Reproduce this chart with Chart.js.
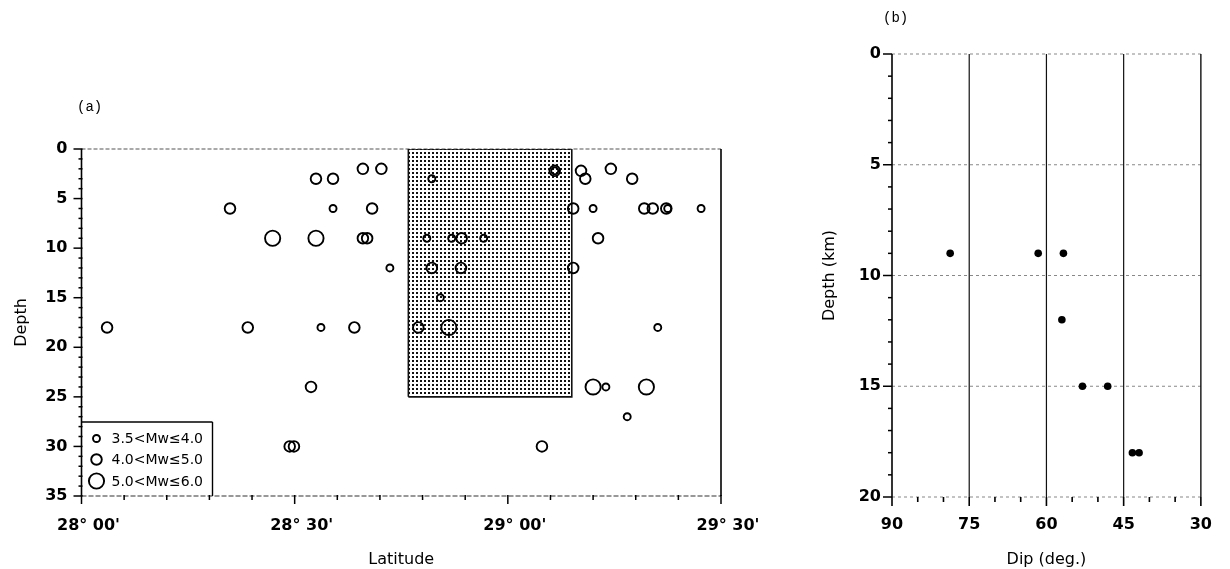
<!DOCTYPE html>
<html>
<head>
<meta charset="utf-8">
<script src="https://cdn.jsdelivr.net/npm/chart.js@4.4.1/dist/chart.umd.min.js"></script>
<style>
  body { margin: 0; background: #fff; width: 1230px; height: 569px; overflow: hidden; position: relative; }
  canvas { position: absolute; top: 0; }
  #chartA { left: 0; }
  #chartB { left: 790px; }
  .tag { position: absolute; font: 14px "Liberation Mono", "DejaVu Sans Mono", monospace; color: #000; will-change: transform; }
</style>
</head>
<body>
<div class="tag" style="left:77px; top:99px;">(a)</div>
<div class="tag" style="left:883px; top:10px;">(b)</div>
<canvas id="chartA" width="790" height="569"></canvas>
<canvas id="chartB" width="440" height="569"></canvas>
<script>
// panel (a): latitude as minutes north of 28°00', depth in km
const smallLat   = [49.3, 35.4, 72.0, 82.5, 87.2, 48.6, 52.1, 56.6, 43.4, 50.5, 33.7, 81.1, 73.8, 76.8, 66.6];
const smallDepth = [3, 6, 6, 6, 6, 9, 9, 9, 12, 15, 18, 18, 24, 27, 2.2];
const midLat   = [39.6, 42.2, 66.6, 70.3, 74.5, 33.0, 35.4, 70.9, 77.5, 20.9, 40.9, 69.2, 79.2, 80.4, 82.3,
                  39.6, 40.2, 53.5, 72.7, 49.3, 53.4, 69.2, 3.6, 23.4, 38.4, 47.4, 32.3, 29.3, 29.9, 64.8];
const midDepth = [2, 2, 2.2, 2.2, 2, 3, 3, 3, 3, 6, 6, 6, 6, 6, 6,
                  9, 9, 9, 9, 12, 12, 12, 18, 18, 18, 18, 24, 30, 30, 30];
const bigLat   = [26.9, 33.0, 51.7, 72.0, 79.5];
const bigDepth = [9, 9, 18, 24, 24];
const zoneLat   = [46, 46, 69, 69, 46];
const zoneDepth = [25, 0, 0, 25, 25];
const magLabels = ['3.5<Mw≤4.0', '4.0<Mw≤5.0', '5.0<Mw≤6.0'];
const latLabels = ["28° 00'", "28° 30'", "29° 00'", "29° 30'"];

// panel (b): dip vs depth
const dipDeg   = [78.7, 61.6, 56.7, 57.0, 53.0, 48.1, 43.3, 42.0];
const dipDepth = [9, 9, 9, 12, 15, 15, 18, 18];

const FONT = '"Comic Sans MS", "DejaVu Sans", sans-serif';
const tickFont  = { family: FONT, size: 16, weight: 'bold' };
const titleFont = { family: FONT, size: 16 };

const pts = (xs, ys) => xs.map((x, i) => ({ x, y: ys[i] }));

function stipple() {
  const c = document.createElement('canvas');
  c.width = 4; c.height = 4;
  const g = c.getContext('2d');
  g.fillStyle = '#111';
  g.fillRect(0, 0, 2, 2);
  return g.createPattern(c, 'repeat');
}

function line(ctx, x1, y1, x2, y2, color, width, dash) {
  ctx.save();
  ctx.strokeStyle = color;
  ctx.lineWidth = width;
  ctx.setLineDash(dash || []);
  ctx.beginPath();
  ctx.moveTo(x1, y1);
  ctx.lineTo(x2, y2);
  ctx.stroke();
  ctx.restore();
}

// frame + ticks for panel (a)
const frameA = {
  id: 'frameA',
  beforeDatasetsDraw(chart) {
    const { ctx, chartArea: a, scales: { x, y } } = chart;
    line(ctx, a.left, a.top, a.right, a.top, '#555', 1.2, [4, 2]);
    line(ctx, a.left, a.bottom, a.right, a.bottom, '#333', 1.2, [5, 2]);
    line(ctx, a.left, a.top, a.left, a.bottom, '#000', 1.6);
    line(ctx, a.right, a.top, a.right, a.bottom, '#000', 1.6);
    for (let d = 0; d <= 35; d++) {
      const py = y.getPixelForValue(d);
      line(ctx, a.left - (d % 5 ? 3 : 8), py, a.left + 1, py, '#000', 1.5);
    }
    for (let m = 0; m <= 90; m += 6) {
      const px = x.getPixelForValue(m);
      line(ctx, px, a.bottom - 1, px, a.bottom + (m % 30 ? 4 : 8), '#000', 1.5);
    }
  },
  afterDatasetsDraw(chart) {
    // magnitude key in the lower left corner
    const { ctx, chartArea: a } = chart;
    const top = a.bottom - 74, right = a.left + 131;
    line(ctx, a.left, top, right, top, '#000', 1.4);
    line(ctx, right, top, right, a.bottom, '#000', 1.4);
    const rows = [a.bottom - 57.5, a.bottom - 36.5, a.bottom - 15];
    ctx.save();
    ctx.font = '14px ' + FONT;
    ctx.fillStyle = '#000';
    ctx.textBaseline = 'middle';
    [0, 1, 2].forEach(i => {
      const ds = chart.data.datasets[i];
      ctx.beginPath();
      ctx.lineWidth = ds.borderWidth;
      ctx.strokeStyle = '#000';
      ctx.arc(a.left + 15, rows[i], ds.pointRadius, 0, Math.PI * 2);
      ctx.stroke();
      ctx.fillText(ds.label, a.left + 30, rows[i] + 1);
    });
    ctx.restore();
  }
};

const circle = (label, xs, ys, r) => ({
  label, data: pts(xs, ys), pointRadius: r, pointHoverRadius: r,
  borderColor: '#000', borderWidth: 1.9, backgroundColor: 'rgba(0,0,0,0)', order: 1
});

new Chart(document.getElementById('chartA'), {
  type: 'scatter',
  data: {
    datasets: [
      circle(magLabels[0], smallLat, smallDepth, 3.5),
      circle(magLabels[1], midLat, midDepth, 5.3),
      circle(magLabels[2], bigLat, bigDepth, 7.6),
      {
        type: 'line', label: 'zone', data: pts(zoneLat, zoneDepth),
        fill: 'shape', backgroundColor: stipple(), borderColor: '#111', borderWidth: 1.6,
        pointRadius: 0, tension: 0, order: 5
      }
    ]
  },
  options: {
    responsive: false,
    animation: false,
    events: [],
    layout: { padding: { top: 149, right: 69, left: 0, bottom: 0 } },
    plugins: { legend: { display: false }, tooltip: { enabled: false } },
    scales: {
      x: {
        type: 'linear', min: 0, max: 90,
        grid: { display: false, drawTicks: false }, border: { display: false },
        ticks: { stepSize: 30, autoSkip: false, maxRotation: 0, padding: 20, labelOffset: 7,
                 color: '#000', font: tickFont, callback: v => latLabels[v / 30] },
        title: { display: true, text: 'Latitude', color: '#000', font: titleFont, padding: { top: 0, bottom: 0 } },
        afterFit: s => { s.height = 73; }
      },
      y: {
        type: 'linear', min: 0, max: 35, reverse: true,
        grid: { display: false, drawTicks: false }, border: { display: false },
        ticks: { stepSize: 5, padding: 14, color: '#000', font: tickFont },
        title: { display: true, text: 'Depth', color: '#000', font: titleFont, padding: { top: 12, bottom: 0 } },
        afterFit: s => { s.width = 81.5; }
      }
    }
  },
  plugins: [frameA]
});

// frame, grid + ticks for panel (b)
const frameB = {
  id: 'frameB',
  beforeDatasetsDraw(chart) {
    const { ctx, chartArea: a, scales: { x, y } } = chart;
    [0, 5, 10, 15, 20].forEach(d => {
      const py = y.getPixelForValue(d);
      line(ctx, a.left, py, a.right, py, '#888', 1, [3, 3]);
    });
    [75, 60, 45].forEach(v => {
      const px = x.getPixelForValue(v);
      line(ctx, px, a.top, px, a.bottom, '#111', 1.2);
    });
    line(ctx, a.right, a.top, a.right, a.bottom, '#111', 1.4);
    line(ctx, a.left, a.top, a.left, a.bottom, '#000', 1.6);
    for (let d = 0; d <= 20; d++) {
      const py = y.getPixelForValue(d);
      line(ctx, a.left - (d % 5 ? 4 : 9), py, a.left, py, '#000', 1.5);
    }
    for (let v = 30; v <= 90; v += 5) {
      const px = x.getPixelForValue(v);
      line(ctx, px, a.bottom, px, a.bottom + (v % 15 ? 5 : 9), '#000', 1.6);
    }
  }
};

new Chart(document.getElementById('chartB'), {
  type: 'scatter',
  data: {
    datasets: [{
      label: 'dip', data: pts(dipDeg, dipDepth),
      pointRadius: 3.8, pointHoverRadius: 3.8, backgroundColor: '#000', borderWidth: 0
    }]
  },
  options: {
    responsive: false,
    animation: false,
    events: [],
    layout: { padding: { top: 54, right: 20, left: 0, bottom: 0 } },
    plugins: { legend: { display: false }, tooltip: { enabled: false } },
    scales: {
      x: {
        type: 'linear', min: 30, max: 90, reverse: true,
        grid: { display: false, drawTicks: false }, border: { display: false },
        ticks: { stepSize: 15, autoSkip: false, maxRotation: 0, padding: 18, color: '#000', font: tickFont },
        title: { display: true, text: 'Dip (deg.)', color: '#000', font: titleFont, padding: { top: 2, bottom: 0 } },
        afterFit: s => { s.height = 72; }
      },
      y: {
        type: 'linear', min: 0, max: 20, reverse: true,
        grid: { display: false, drawTicks: false }, border: { display: false },
        ticks: { stepSize: 5, padding: 11, color: '#000', font: tickFont },
        title: { display: true, text: 'Depth (km)', color: '#000', font: titleFont, padding: { top: 30, bottom: 0 } },
        afterFit: s => { s.width = 102; }
      }
    }
  },
  plugins: [frameB]
});
</script>
</body>
</html>
